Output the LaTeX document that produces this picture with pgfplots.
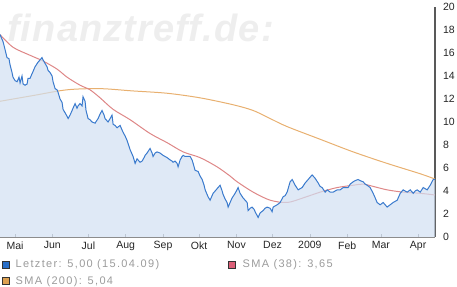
\documentclass[border=0pt]{standalone}
\usepackage{pgfplots}
\pgfplotsset{compat=1.18}
\usepackage{fontspec}
\setmainfont{Liberation Sans}
\newfontfamily\legfont{Liberation Sans}[LetterSpace=12]
\definecolor{areafill}{RGB}{209,224,242}
\definecolor{blueline}{RGB}{58,122,205}
\definecolor{smaA}{RGB}{222,135,135}
\definecolor{smaB}{RGB}{232,176,112}
\definecolor{legblue}{RGB}{40,110,200}
\definecolor{legred}{RGB}{220,95,120}
\definecolor{legorange}{RGB}{220,160,80}
\definecolor{legtext}{RGB}{155,155,155}
\definecolor{wm}{RGB}{238,238,238}
\begin{document}
\begin{tikzpicture}[x=1pt,y=1pt]
\useasboundingbox (0,-49) rectangle (457,237);
\node[anchor=base west, inner sep=0pt, text=wm, font={\fontspec{Liberation Sans}[LetterSpace=3]\bfseries\itshape\fontsize{38}{38}\selectfont}] at (7,195) {finanztreff.de:};
\begin{axis}[
  at={(0,0)}, anchor=south west,
  scale only axis, width=435pt, height=230pt,
  xmin=-12.5, xmax=349, ymin=0, ymax=20,
  axis x line*=bottom, axis y line*=right,
  x axis line style={draw=black!45, line width=0.8pt, -},
  y axis line style={draw=black!65, line width=1.2pt, -},
  ytick={0,2,...,20},
  xtick={0,31,61,92,123,153,184,214,245,276,304,335},
  xticklabels={Mai,Jun,Jul,Aug,Sep,Okt,Nov,Dez,2009,Feb,Mar,Apr},
  x tick style={draw=black!45, line width=0.6pt},
  y tick style={draw=none},
  xtick align=inside,
  major tick length=3pt,
  tick label style={font=\fontsize{10.5}{10.5}\selectfont, text=black!85},
  /pgf/number format/assume math mode=true,
  yticklabel style={anchor=west, xshift=4.5pt},
  xticklabel style={yshift=-1pt},
  legend style={at={(rel axis cs:0,0)}, anchor=north west, xshift=2pt, yshift=-21.5pt,
    draw=none, fill=none, inner sep=0pt,
    font=\legfont\fontsize{11}{11}\selectfont, text=legtext,
    legend columns=2, row sep=5pt,
    nodes={inner sep=1pt, anchor=west},
    /tikz/column 1/.style={column sep=5pt},
    /tikz/column 2/.style={column sep=68pt},
    /tikz/column 3/.style={column sep=6pt}},
  legend cell align=left,
]
\addlegendimage{legend image code/.code={\draw[fill=legblue,draw=black!80,line width=0.5pt] (0pt,-3.5pt) rectangle (7pt,3.5pt);}}
\addlegendentry{Letzter: 5,00 (15.04.09)}
\addlegendimage{legend image code/.code={\draw[fill=legred,draw=black!80,line width=0.5pt] (0pt,-3.5pt) rectangle (7pt,3.5pt);}}
\addlegendentry{SMA (38): 3,65}
\addlegendimage{legend image code/.code={\draw[fill=legorange,draw=black!80,line width=0.5pt] (0pt,-3.5pt) rectangle (7pt,3.5pt);}}
\addlegendentry{SMA (200): 5,04}

% SMA 200
\addplot[smaB, line width=1pt, smooth, forget plot] table {
x y
-12.5 11.8
15.0 12.3
43.2 12.8
70.7 12.9
98.1 12.7
126.4 12.5
153.8 12.1
181.2 11.5
197.9 11.0
212.0 10.3
226.1 9.6
253.5 8.5
281.0 7.4
309.2 6.4
336.7 5.5
349.0 5.04
};
% SMA 38
\addplot[smaA, line width=1pt, smooth, forget plot] table {
x y
-12.5 17.6
-1.7 16.5
12.5 15.8
23.3 15.3
34.9 14.6
43.2 13.9
54.0 13.2
62.3 12.8
70.7 12.1
81.5 11.1
95.6 10.2
112.2 9.0
126.4 8.2
139.7 7.4
153.8 6.9
167.9 6.1
178.7 5.3
184.6 4.8
197.9 3.9
212.0 3.2
226.1 3.0
239.4 3.4
253.5 3.9
267.7 4.3
281.0 4.5
289.3 4.6
297.6 4.4
309.2 4.1
322.5 3.9
336.7 3.8
349.0 3.65
};
\pgfplotstableread{
x y
-12.5 17.6
-10.0 17.0
-8.3 16.3
-6.7 15.6
-5.0 15.5
-4.2 15.0
-2.5 14.3
-1.7 13.9
0.0 13.6
1.7 13.5
3.3 13.9
4.2 13.4
5.8 14.0
6.7 13.3
8.3 13.2
10.0 13.3
10.8 13.8
12.5 13.8
14.1 14.2
15.0 14.4
16.6 14.8
19.1 15.2
20.8 15.4
22.4 15.6
23.3 15.4
24.9 15.1
26.6 14.8
27.4 14.5
29.1 14.3
30.8 14.0
31.6 13.5
33.3 12.9
34.9 12.8
35.7 12.6
37.4 12.0
39.1 11.7
39.9 11.1
41.6 10.8
43.2 10.5
44.1 10.3
45.7 10.6
47.4 11.0
48.2 11.2
49.9 11.6
51.5 11.2
52.4 11.4
54.0 11.6
55.7 11.4
56.5 12.2
58.2 11.8
59.0 11.0
60.7 10.3
62.3 10.2
64.0 10.0
66.5 9.9
69.0 10.3
70.7 10.7
72.3 11.0
74.0 10.6
74.8 10.3
77.3 10.0
79.0 10.3
80.6 10.6
81.5 9.8
83.1 9.7
84.8 9.5
87.3 9.7
89.8 9.1
91.4 8.8
93.1 8.4
95.6 7.6
98.1 7.0
99.8 6.4
101.4 6.8
102.2 6.7
103.9 6.5
105.6 6.6
107.2 6.9
108.1 7.1
109.7 7.3
112.2 7.7
113.9 7.3
114.7 7.0
116.4 7.3
118.0 7.4
120.5 7.3
123.0 7.1
124.7 7.0
126.4 6.9
128.9 6.7
130.5 6.6
131.3 6.5
133.0 6.6
134.7 6.4
135.5 6.1
137.2 6.7
138.8 7.0
139.7 7.1
141.3 7.0
143.0 7.0
145.5 7.0
147.1 6.7
148.0 6.4
149.6 5.8
152.1 5.7
153.8 5.3
155.5 5.0
157.1 4.5
158.0 4.1
159.6 3.7
160.4 3.5
162.1 3.2
164.6 3.8
166.3 4.0
167.9 4.2
170.4 4.5
172.1 4.0
172.9 3.7
174.6 3.3
176.2 3.0
177.1 2.6
178.7 3.0
180.4 3.4
182.9 3.8
185.4 4.3
187.0 3.8
189.5 3.4
191.2 3.2
192.9 3.0
193.7 2.3
195.4 2.5
197.0 2.6
198.7 2.4
199.5 2.2
202.0 1.7
203.7 2.1
206.2 2.3
207.8 2.5
209.5 2.6
212.0 2.5
213.6 2.2
214.5 2.6
216.1 2.7
217.8 2.8
220.3 3.0
222.8 3.5
224.5 3.6
226.1 3.9
228.6 4.8
230.3 5.0
232.8 4.5
235.3 4.1
236.9 4.2
238.6 4.3
241.1 4.7
243.6 5.0
245.2 5.2
246.9 5.4
249.4 5.1
251.9 4.7
253.5 4.4
255.2 4.3
257.7 3.9
259.4 4.1
261.9 3.9
264.4 3.9
266.0 4.0
267.7 4.1
270.2 4.1
272.7 4.3
274.3 4.3
276.8 4.3
278.5 4.6
281.0 4.8
282.6 4.9
285.1 5.0
286.8 4.9
289.3 4.8
291.0 4.6
292.6 4.5
295.1 4.3
297.6 3.8
299.3 3.4
300.9 3.0
303.4 2.8
305.9 3.0
307.6 2.8
309.2 2.6
311.7 2.8
314.2 3.0
317.6 3.2
320.1 3.8
322.5 4.1
324.2 4.0
325.9 3.9
328.4 4.1
330.9 3.8
332.5 4.0
334.2 4.1
336.7 3.9
339.2 4.3
340.8 4.2
342.5 4.1
345.0 4.5
347.5 5.0
349.0 5.0
}\letzter
\addplot[draw=none, fill=areafill, fill opacity=0.7, forget plot] table {\letzter} \closedcycle;
\addplot[blueline, line width=1pt, forget plot] table {\letzter};
\end{axis}
\end{tikzpicture}
\end{document}
